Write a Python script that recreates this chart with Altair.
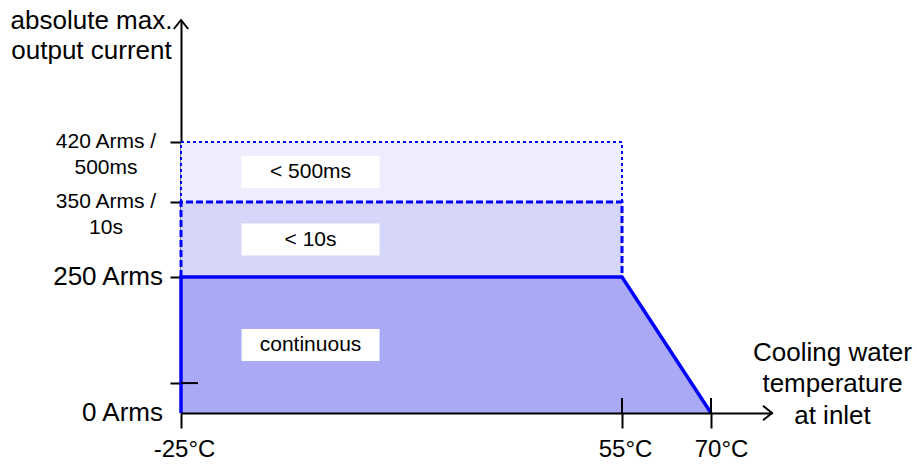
import altair as alt
import pandas as pd

# ---------------- data ----------------
temps = [-25, 55, 70]
temp_labels = ["-25°C", "55°C", "70°C"]
current_levels = [0, 250, 350, 420]
current_labels = ["0 Arms", "250 Arms", "350 Arms /\n10s", "420 Arms /\n500ms"]
minor_tick = 55

region_names = ["continuous", "< 10s", "< 500ms"]
region_low = [0, 250, 350]
region_high = [250, 350, 420]
region_fill = ["#a9a9f6", "#d6d6fb", "#ededfd"]

envelope_t = [-25, -25, 55, 70]
envelope_i = [0, 250, 250, 0]
ten_s_t = [-25, -25, 55, 55]
ten_s_i = [250, 350, 350, 250]
half_s_t = [-25, -25, 55, 55]
half_s_i = [350, 420, 420, 350]

x_axis_end = 80
y_axis_end = 600
label_anchor_t = -1.5

FONT = "Liberation Sans"
BLUE = "#0000ff"

# ---------------- scales / axes ----------------
x_scale = alt.Scale(domain=[-25, 55, 70, x_axis_end], range=[0, 441, 530, 591], nice=False, zero=False)
y_scale = alt.Scale(domain=[0, 250, 350, 420, y_axis_end], range=[393, 257, 182, 122, 0], nice=False, zero=False)

label_expr = "[" + ",".join("'" + s + "'" for s in temp_labels) + "][indexof([" + ",".join(str(v) for v in temps) + "], datum.value)]"

x_axis = alt.Axis(
    values=temps, labelExpr=label_expr, labelFont=FONT, labelFontSize=24, labelColor="black",
    labelPadding=9, labelFlush=False,
    labelOffset={"condition": {"test": "datum.value == 70", "value": 10}, "value": 3},
    labelAngle=0, grid=False, tickSize=15, tickWidth=2, tickColor="black",
    domainColor="black", domainWidth=2, zindex=1,
    title=["Cooling water", "temperature", "at inlet"], titleFont=FONT, titleFontSize=26,
    titleFontWeight="normal", titleColor="black", titleAngle=0, titleAlign="center",
    titleBaseline="alphabetic", titleX=651, titleY=-53, titleLineHeight=31.5,
)
y_axis = alt.Axis(
    values=[minor_tick] + current_levels[1:], labels=False, grid=False, tickSize=11, tickWidth=2,
    tickColor="black", domainColor="black", domainWidth=2, zindex=0,
    title=["absolute max.", "output current"], titleFont=FONT, titleFontSize=26,
    titleFontWeight="normal", titleColor="black", titleAngle=0, titleAlign="center",
    titleBaseline="alphabetic", titleX=-90, titleY=8.5, titleLineHeight=30,
)


def X(field="t"):
    return alt.X(f"{field}:Q", scale=x_scale, axis=x_axis)


def Y(field="i"):
    return alt.Y(f"{field}:Q", scale=y_scale, axis=y_axis)


# ---------------- frames ----------------
area_df = pd.DataFrame({"t": envelope_t[1:], "i": envelope_i[1:], "base": 0})
regions_df = pd.DataFrame({
    "name": region_names, "low": region_low, "high": region_high, "fill": region_fill,
    "t0": -25, "t1": 55,
})
regions_df["mid"] = (regions_df["low"] + regions_df["high"]) / 2
regions_df["t"] = label_anchor_t


def path_df(ts, is_):
    return pd.DataFrame({"t": ts, "i": is_, "o": list(range(len(ts)))})


env_df = path_df(envelope_t, envelope_i)
ten_df = path_df(ten_s_t, ten_s_i)
half_df = path_df(half_s_t, half_s_i)

ylab_df = pd.DataFrame({"i": current_levels, "label": current_labels})
ylab_df["multi"] = ylab_df["label"].str.contains("\n")

# ---------------- layers ----------------
fill_cont = alt.Chart(area_df).mark_area(color=region_fill[0], interpolate="linear").encode(
    x=X(), y=Y(), y2="base:Q")

fill_rects = alt.Chart(regions_df.iloc[1:]).mark_rect().encode(
    x=X("t0"), x2="t1:Q", y=Y("low"), y2="high:Q",
    color=alt.Color("fill:N", scale=None))

boxes = alt.Chart(regions_df).mark_rect(color="white", xOffset=-69, x2Offset=69, yOffset=-16, y2Offset=16).encode(
    x=X(), x2="t:Q", y=Y("mid"), y2="mid:Q")

box_text = alt.Chart(regions_df).mark_text(font=FONT, fontSize=21, color="black", baseline="middle").encode(
    x=X(), y=Y("mid"), text="name:N")

env_line = alt.Chart(env_df).mark_line(color=BLUE, strokeWidth=3.5).encode(
    x=X(), y=Y(), order="o:Q")
ten_line = alt.Chart(ten_df).mark_line(color=BLUE, strokeWidth=3, strokeDash=[7, 3]).encode(
    x=X(), y=Y(), order="o:Q")
half_line = alt.Chart(half_df).mark_line(color=BLUE, strokeWidth=2, strokeDash=[3, 3]).encode(
    x=X(), y=Y(), order="o:Q")

minor_rule = alt.Chart(pd.DataFrame({"t": [-25], "i": [minor_tick]})).mark_rule(
    color="black", strokeWidth=2, x2Offset=17).encode(x=X(), x2="t:Q", y=Y())
up_ticks = alt.Chart(pd.DataFrame({"t": temps[1:], "i": [0, 0]})).mark_rule(
    color="black", strokeWidth=2, y2Offset=-15).encode(x=X(), y=Y(), y2="i:Q")

arrow_x = alt.Chart(pd.DataFrame({"t": [x_axis_end], "i": [0]})).mark_point(
    shape="M-1,-0.8L0,0L-1,0.8", size=324, filled=False, stroke="black", strokeWidth=2, opacity=1).encode(
    x=X(), y=Y())
arrow_y = alt.Chart(pd.DataFrame({"t": [-25], "i": [y_axis_end]})).mark_point(
    shape="M-0.8,1L0,0L0.8,1", size=324, filled=False, stroke="black", strokeWidth=2, opacity=1).encode(
    x=X(), y=Y())

ylab_big = alt.Chart(ylab_df).transform_filter("!datum.multi").mark_text(
    font=FONT, fontSize=26, align="right", baseline="middle", color="black").encode(
    x=alt.value(-18), y=Y(), text="label:N")
ylab_small = alt.Chart(ylab_df).transform_filter("datum.multi").mark_text(
    font=FONT, fontSize=21, align="center", baseline="middle", color="black", lineBreak="\n",
    lineHeight=25.5).encode(
    x=alt.value(-75), y=Y(), text="label:N")

chart = alt.layer(
    fill_cont, fill_rects, boxes, box_text, env_line, ten_line, half_line,
    minor_rule, up_ticks, arrow_x, arrow_y, ylab_big, ylab_small,
).properties(
    width=591, height=393,
    autosize=alt.AutoSizeParams(type="none"),
    padding={"left": 181, "top": 20, "right": 145, "bottom": 52},
    background="white",
).configure_view(strokeWidth=0)

chart.save("out.html", embed_options={"renderer": "svg", "actions": False})
